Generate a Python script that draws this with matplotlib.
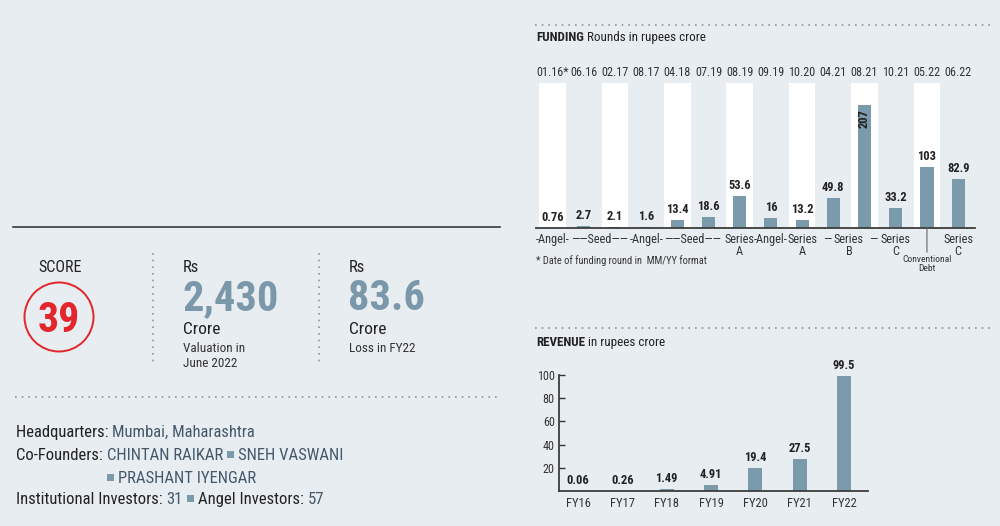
import matplotlib
matplotlib.use("Agg")
from matplotlib import pyplot as plt
from matplotlib.patches import Ellipse, Rectangle
from matplotlib.lines import Line2D
import numpy as np

FONT = ['Roboto Condensed', 'Liberation Sans Narrow', 'Roboto', 'DejaVu Sans']
plt.rcParams['font.family'] = FONT

BG = '#e7edf1'
BAR = '#7b9bad'
DARK = '#222222'
SLATE = '#45586a'
RED = '#e2262b'
DOT = '#8d949b'

# funding rounds (rupees crore)
fund_dates = ['01.16*', '06.16', '02.17', '08.17', '04.18', '07.19', '08.19',
              '09.19', '10.20', '04.21', '08.21', '10.21', '05.22', '06.22']
fund_amounts = [0.76, 2.7, 2.1, 1.6, 13.4, 18.6, 53.6, 16, 13.2, 49.8, 207, 33.2, 103, 82.9]
fund_rounds = ['-Angel-', '——Seed——', '-Angel-', '——Seed——', 'Series\nA', '-Angel-',
               'Series\nA', 'Series\nB', 'Series\nC', 'Conventional\nDebt', 'Series\nC']
fund_round_spans = [(0, 0), (1, 2), (3, 3), (4, 5), (6, 6), (7, 7),
                    (8, 8), (9, 10), (11, 11), (12, 12), (13, 13)]
fund_round_dash = [False, False, False, False, False, False,
                   False, True, True, False, False]

# revenue (rupees crore)
rev_years = ['FY16', 'FY17', 'FY18', 'FY19', 'FY20', 'FY21', 'FY22']
rev_values = [0.06, 0.26, 1.49, 4.91, 19.4, 27.5, 99.5]
rev_ticks = [20, 40, 60, 80, 100]

W, H = 1000, 526


def fx(px):
    return px / W


def fy(py):
    return 1 - py / H


fig = plt.figure(figsize=(10, 5.26), dpi=100, facecolor=BG)
renderer = fig.canvas.get_renderer()


def hline(x0, x1, y, dotted=True, **kw):
    ls = (0, (1, 3)) if dotted else '-'
    fig.add_artist(Line2D([fx(x0), fx(x1)], [fy(y), fy(y)], ls=ls, **kw))


def vline(x, y0, y1, **kw):
    fig.add_artist(Line2D([fx(x), fx(x)], [fy(y0), fy(y1)], ls=(0, (1, 3)), **kw))


def runs(x, y, parts, size):
    # draw pieces of text one after another on the same baseline
    for s, color, weight in parts:
        if s == '#':
            fig.add_artist(Rectangle((fx(x + 4), fy(y - 2)), 7 / W, 7 / H,
                                     color=BAR, lw=0))
            x += 15
            continue
        t = fig.text(fx(x), fy(y), s, color=color, fontsize=size,
                     fontweight=weight, ha='left', va='baseline')
        x += t.get_window_extent(renderer).width
    return x


# ---------------- funding chart
n = len(fund_amounts)
xs = np.arange(n)
ax = fig.add_axes([fx(536), fy(228), fx(975) - fx(536), (228 - 83) / H])
ax.set_facecolor('none')
ax.set_xlim(-0.53, n - 1 + 0.54)
ax.set_ylim(0, 244)
for i in range(0, n, 2):
    ax.axvspan(i - 0.425, i + 0.425, color='white', lw=0, zorder=0)
ax.bar(xs, fund_amounts, width=0.42, color=BAR, zorder=2)
for s in ['top', 'left', 'right']:
    ax.spines[s].set_visible(False)
ax.spines['bottom'].set_color('#3c3c3c')
ax.spines['bottom'].set_linewidth(1.3)
ax.set_xticks([])
ax.set_yticks([])

top = max(fund_amounts)
for i, v in enumerate(fund_amounts):
    lab = f'{v:g}'
    if v == top:
        ax.annotate(lab, xy=(i, v), xytext=(0, -4), textcoords='offset pixels',
                    ha='center', va='top', rotation=90, fontsize=9,
                    fontweight='bold', color=DARK, zorder=3)
    else:
        ax.annotate(lab, xy=(i, v), xytext=(0, 4), textcoords='offset pixels',
                    ha='center', va='bottom', fontsize=9,
                    fontweight='bold', color=DARK, zorder=3)

for i, d in enumerate(fund_dates):
    ax.annotate(d, xy=(i, 1), xycoords=('data', 'axes fraction'),
                xytext=(0, 10), textcoords='offset pixels',
                ha='center', va='center', fontsize=8.7, color='#333333')

for lab, (a, b), dash in zip(fund_rounds, fund_round_spans, fund_round_dash):
    c = (a + b) / 2
    if lab.startswith('Conventional'):
        ax.annotate(lab, xy=(c, 0), xytext=(0, -27), textcoords='offset pixels',
                    ha='center', va='top', fontsize=6.8, color='#333333',
                    linespacing=1.0, annotation_clip=False,
                    arrowprops=dict(arrowstyle='-', color='#666666', lw=0.8,
                                    shrinkA=0, shrinkB=0))
        continue
    ax.annotate(lab, xy=(c, 0), xytext=(0, -5), textcoords='offset pixels',
                ha='center', va='top', fontsize=8.8, color='#333333',
                linespacing=0.95, annotation_clip=False)
    if dash:
        ax.annotate('—', xy=(c, 0), xytext=(-18, -5), textcoords='offset pixels',
                    ha='right', va='top', fontsize=8.8, color='#333333',
                    annotation_clip=False)

runs(536, 41, [('FUNDING', DARK, 'bold'), (' Rounds in rupees crore', DARK, 'normal')], 9.4)
fig.text(fx(536), fy(261), '* Date of funding round in  MM/YY format',
         fontsize=7.5, color='#333333', va='center', ha='left')
hline(535, 993, 25, color=DOT, lw=1.2)

# ---------------- revenue chart
rax = fig.add_axes([fx(559), fy(491), fx(868) - fx(559), (491 - 375) / H])
rax.set_facecolor('none')
rax.bar(np.arange(len(rev_values)), rev_values, width=0.32, color=BAR)
rax.set_xlim(-0.43, len(rev_values) - 1 + 0.54)
rax.set_ylim(0, 100)
for s in ['top', 'right']:
    rax.spines[s].set_visible(False)
for s in ['left', 'bottom']:
    rax.spines[s].set_color('#3c3c3c')
    rax.spines[s].set_linewidth(1.3)
rax.set_yticks(rev_ticks)
rax.tick_params(axis='y', direction='in', length=4, width=1, labelsize=8.7,
                pad=3, colors='#333333')
rax.set_xticks(np.arange(len(rev_years)))
rax.set_xticklabels(rev_years)
rax.tick_params(axis='x', length=0, labelsize=9, pad=4, colors='#333333')
for i, v in enumerate(rev_values):
    rax.annotate(f'{v:g}', xy=(i, v), xytext=(0, 4), textcoords='offset pixels',
                 ha='center', va='bottom', fontsize=9, fontweight='bold',
                 color=DARK, annotation_clip=False)

runs(536, 346, [('REVENUE', DARK, 'bold'), (' in rupees crore', DARK, 'normal')], 9.4)
hline(535, 993, 328, color=DOT, lw=1.2)

# ---------------- left panel
hline(13, 500, 227, dotted=False, color='#3a3a3a', lw=1.2)

fig.text(fx(60), fy(268), 'SCORE', fontsize=11.5, color=DARK, ha='center', va='center')
fig.add_artist(Ellipse((fx(59), fy(317)), 69 / W, 69 / H, fill=False,
                       edgecolor=RED, lw=1.4))
fig.text(fx(59), fy(332), '39', fontsize=30, fontweight='bold', color=RED,
         ha='center', va='baseline')

vline(153, 253, 365, color=DOT, lw=1.2)
vline(319, 253, 365, color=DOT, lw=1.2)

for x0, big, lines in [(183, '2,430', ['Valuation in', 'June 2022']),
                       (349, '83.6', ['Loss in FY22'])]:
    fig.text(fx(x0), fy(272), 'Rs', fontsize=12, color=DARK, ha='left', va='baseline')
    fig.text(fx(x0 - 1), fy(310), big, fontsize=30.5, fontweight='bold', color='#7a98aa',
             ha='left', va='baseline')
    fig.text(fx(x0), fy(334), 'Crore', fontsize=12.5, color=DARK, ha='left', va='baseline')
    for k, s in enumerate(lines):
        fig.text(fx(x0), fy(352 + 15 * k), s, fontsize=9.5, color='#333333',
                 ha='left', va='baseline')

hline(15, 500, 397, color=DOT, lw=1.2)

runs(16, 437, [('Headquarters: ', DARK, 'normal'), ('Mumbai, Maharashtra', SLATE, 'normal')], 12)
runs(16, 460, [('Co-Founders: ', DARK, 'normal'), ('CHINTAN RAIKAR', SLATE, 'normal'),
               ('#', None, None), ('SNEH VASWANI', SLATE, 'normal')], 12)
runs(103, 483, [('#', None, None), ('PRASHANT IYENGAR', SLATE, 'normal')], 12)
runs(16, 504, [('Institutional Investors: ', DARK, 'normal'), ('31', SLATE, 'normal'),
               ('#', None, None), ('Angel Investors: ', DARK, 'normal'),
               ('57', SLATE, 'normal')], 12)

fig.savefig('out.png', dpi=100, facecolor=BG)
